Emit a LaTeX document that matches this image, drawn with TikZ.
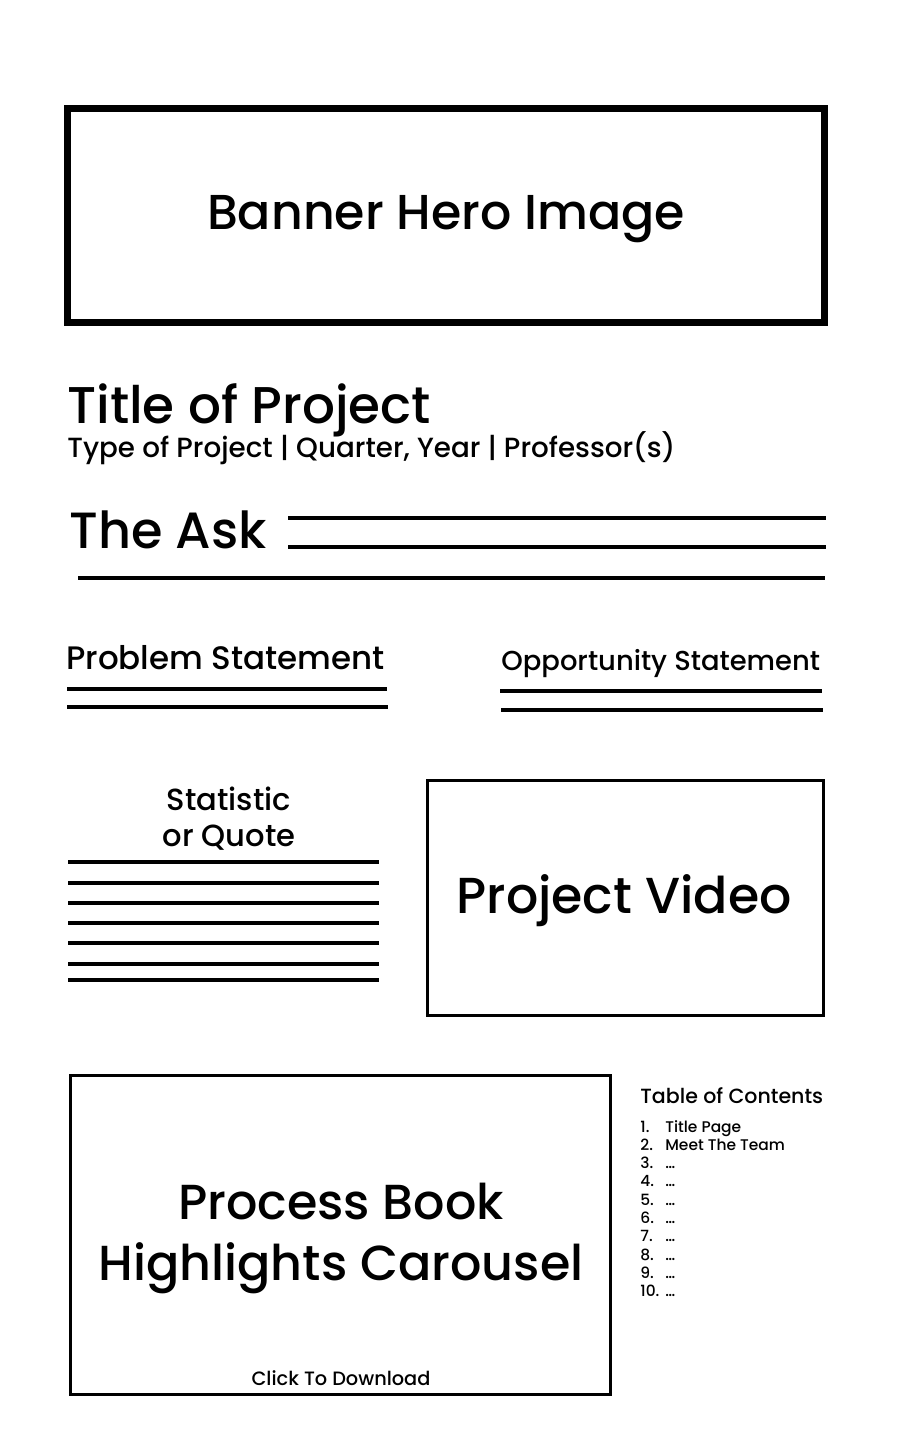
\documentclass[tikz,border=0pt]{standalone}
\usepackage{fontspec}
\setmainfont{Poppins Medium}

\begin{document}
\begin{tikzpicture}[%
        x = 0.02cm,
        y = -0.02cm,
        line cap = butt,
        frame/.style = {draw = black, line width = 1.7pt},
        rule/.style = {draw = black, line width = 2.27pt},
        label/.style = {inner sep = 0pt, anchor = base west},
        centred/.style = {inner sep = 0pt, anchor = base}
    ]
    \useasboundingbox (0, 0) rectangle (900, 1440);

    % The banner at the top of the page.
    \draw[line width = 3.97pt] (67.5, 108.5) rectangle (824.5, 322.5);
    \node[centred] (banner) at (446, 229) {\fontsize{27.9}{34}\selectfont Banner Hero Image};

    % Title and the line under it.
    \node[label] (title) at (67, 423) {\fontsize{29.4}{36}\selectfont Title of Project};
    \node[label] (subtitle) at (67, 457) {\fontsize{15.8}{18}\selectfont Type of Project | Quarter, Year | Professor(s)};

    % The ask, with its lines.
    \node[label] (ask) at (69, 548) {\fontsize{29}{34}\selectfont The Ask};
    \begin{scope}[rule]
        \draw (288, 518) to (826, 518);
        \draw (288, 547) to (826, 547);
        \draw (78, 578) to (825, 578);
    \end{scope}

    % Problem and opportunity statements.
    \node[label] (problem) at (66, 669) {\fontsize{18.5}{22}\selectfont Problem Statement};
    \node[label] (opportunity) at (501, 670) {\fontsize{15.6}{19}\selectfont Opportunity Statement};
    \begin{scope}[rule]
        \draw (67, 689) to (387, 689);
        \draw (67, 707) to (388, 707);
        \draw (500, 691) to (822, 691);
        \draw (501, 710) to (823, 710);
    \end{scope}

    % Statistic or quote, with its lines.
    \node[centred] (stat) at (229, 810) {\fontsize{17.4}{21}\selectfont Statistic};
    \node[centred] (quote) at (229, 846) {\fontsize{17.4}{21}\selectfont or Quote};
    \foreach \y in {862, 883, 903, 923, 943, 964, 980}
        \draw[rule] (68, \y) to (379, \y);

    % Project video.
    \draw[frame] (427.5, 780.5) rectangle (823.5, 1015.5);
    \node[centred] (video) at (624, 913) {\fontsize{28.8}{34}\selectfont Project Video};

    % Process book carousel.
    \draw[frame] (70.5, 1075.5) rectangle (610.5, 1394.5);
    \node[centred] (book) at (341, 1219) {\fontsize{28}{34}\selectfont Process Book};
    \node[centred] (carousel) at (341, 1280) {\fontsize{28}{34}\selectfont Highlights Carousel};
    \node[centred] (download) at (341, 1385) {\fontsize{11}{13}\selectfont Click To Download};

    % Table of contents.
    \node[label] (toc) at (640, 1103) {\fontsize{11.7}{14}\selectfont Table of Contents};
    \foreach \n/\entry [count = \i from 0] in {1/Title Page, 2/Meet The Team, 3/…, 4/…, 5/…,
            6/…, 7/…, 8/…, 9/…, 10/…} {
        \node[label] (num\n) at (640, 1132 + 18.3*\i) {\fontsize{8.8}{11}\selectfont \n.};
        \node[label] (item\n) at (665, 1132 + 18.3*\i) {\fontsize{8.8}{11}\selectfont \entry};
    }
\end{tikzpicture}
\end{document}
